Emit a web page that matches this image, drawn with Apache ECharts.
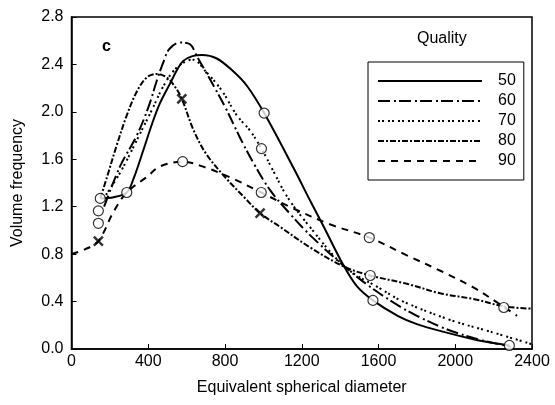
<!DOCTYPE html>
<html>
<head>
<meta charset="utf-8">
<script src="https://cdn.jsdelivr.net/npm/echarts@6/dist/echarts.min.js"></script>
<style>
  html, body { margin: 0; padding: 0; background: #fff; }
  #chart { width: 555px; height: 405px; }
</style>
</head>
<body>
<div id="chart"></div>
<script>
// fitted curves, [diameter, volume frequency]
const q50 = [[150,1.27],[220,1.28],[288,1.32],[322,1.43],[375,1.68],[420,1.90],[460,2.07],[514,2.24],[549,2.35],[582,2.43],[630,2.47],[680,2.48],[757,2.45],[844,2.34],[914,2.22],[1004,1.99],[1156,1.53],[1244,1.25],[1312,1.04],[1416,0.71],[1487,0.53],[1571,0.41],[1700,0.28],[1800,0.21],[1950,0.14],[2100,0.08],[2200,0.05],[2282,0.03]];
const q60 = [[170,1.20],[253,1.54],[340,1.80],[401,2.04],[444,2.26],[479,2.42],[510,2.53],[566,2.585],[618,2.57],[653,2.47],[713,2.30],[801,2.04],[879,1.78],[948,1.57],[1035,1.34],[1139,1.14],[1250,0.95],[1427,0.69],[1560,0.52],[1700,0.37],[1800,0.28],[1950,0.17],[2100,0.09],[2200,0.05],[2290,0.02]];
const q70 = [[180,1.30],[258,1.50],[340,1.76],[420,2.02],[480,2.22],[540,2.36],[600,2.43],[634,2.44],[700,2.34],[783,2.18],[862,1.97],[931,1.84],[990,1.69],[1052,1.50],[1122,1.29],[1227,1.06],[1427,0.69],[1609,0.51],[1729,0.40],[1974,0.245],[2183,0.146],[2400,0.04]];
const q80 = [[150,1.27],[185,1.45],[236,1.72],[288,1.97],[340,2.17],[392,2.29],[444,2.32],[497,2.29],[540,2.21],[575,2.11],[635,1.85],[700,1.65],[800,1.45],[900,1.28],[983,1.145],[1087,1.03],[1250,0.85],[1427,0.69],[1557,0.62],[1748,0.55],[1922,0.47],[2100,0.42],[2253,0.36],[2400,0.34]];
const q90 = [[0,0.80],[70,0.84],[140,0.91],[220,1.16],[288,1.32],[392,1.45],[461,1.54],[579,1.58],[700,1.53],[850,1.43],[989,1.32],[1150,1.19],[1350,1.05],[1552,0.94],[1748,0.79],[1922,0.66],[2094,0.52],[2183,0.43],[2322,0.28]];

// measured points
const circles = [[150,1.27],[140,1.165],[140,1.06],[288,1.32],[579,1.58],[1004,1.99],[990,1.69],[989,1.32],[1552,0.94],[1557,0.62],[1571,0.41],[2253,0.35],[2282,0.03]];
const crosses = [[140,0.91],[575,2.11],[983,1.145]];

const qualities = ["50", "60", "70", "80", "90"];
const curves = [q50, q60, q70, q80, q90];
const dashes = ["solid", [12, 4, 2, 3], [2, 2, 2, 4], [6, 2, 2, 2], [7, 6]];

const myChart = echarts.init(document.getElementById("chart"));

let series = [];
for (let i = 0; i < curves.length; i++) {
  series.push({
    name: qualities[i],
    type: "line",
    data: curves[i],
    smooth: 0.35,
    symbol: "none",
    symbolSize: 0,
    itemStyle: { color: "#000", opacity: 0 },
    lineStyle: { color: "#000", width: 2, type: dashes[i] },
    z: 2
  });
}
series.push({
  type: "scatter",
  data: circles,
  symbol: "circle",
  symbolSize: 10,
  itemStyle: { color: "#fff", borderColor: "#000", borderWidth: 1.2 },
  z: 5
});
series.push({
  type: "scatter",
  data: crosses,
  symbol: "path://M0,0L10,10M10,0L0,10",
  symbolSize: 9,
  itemStyle: { color: "none", borderColor: "#000", borderWidth: 2.5 },
  z: 5
});

const font = "Liberation Sans, Arial, sans-serif";

const option = {
  animation: false,
  backgroundColor: "#fff",
  grid: {
    left: 71.5, right: 23, top: 17, bottom: 56,
    outerBoundsMode: "none",
    containLabel: false,
    show: true, borderColor: "#000", borderWidth: 1.5
  },
  xAxis: {
    type: "value",
    min: 0, max: 2400, interval: 400,
    name: "Equivalent spherical diameter",
    nameLocation: "middle",
    nameGap: 31,
    nameTextStyle: { fontSize: 16, color: "#000", fontFamily: font },
    axisLine: { lineStyle: { color: "#000", width: 1.5 } },
    axisTick: { inside: true, length: 5, lineStyle: { color: "#000" } },
    axisLabel: {
      fontSize: 16, color: "#000", fontFamily: font, margin: 5,
      formatter: function (v) { return String(v); }
    },
    splitLine: { show: false }
  },
  yAxis: {
    type: "value",
    min: 0, max: 2.8, interval: 0.4,
    name: "Volume frequency",
    nameLocation: "middle",
    nameGap: 46,
    nameTextStyle: { fontSize: 16, color: "#000", fontFamily: font },
    axisLine: { show: true, lineStyle: { color: "#000", width: 1.5 } },
    axisTick: { show: true, inside: true, length: 5, lineStyle: { color: "#000" } },
    axisLabel: {
      fontSize: 16, color: "#000", fontFamily: font, margin: 8,
      formatter: function (v) { return v.toFixed(1); }
    },
    splitLine: { show: false }
  },
  legend: {
    data: qualities,
    orient: "vertical",
    left: 368, top: 62,
    padding: [11, 8, 11, 9],
    itemWidth: 104, itemHeight: 14, itemGap: 4,
    borderColor: "#000", borderWidth: 1,
    itemStyle: { opacity: 0 },
    textStyle: { fontSize: 16, lineHeight: 16, color: "#000", fontFamily: font, padding: [0, 0, 0, 11] }
  },
  graphic: [
    {
      type: "text", left: 417, top: 31,
      style: { text: "Quality", fill: "#000", font: "16px " + font }
    },
    {
      type: "text", left: 102, top: 39,
      style: { text: "c", fill: "#000", font: "bold 16px " + font }
    }
  ],
  series: series
};

if (option && typeof option === "object") myChart.setOption(option);
</script>
</body>
</html>
